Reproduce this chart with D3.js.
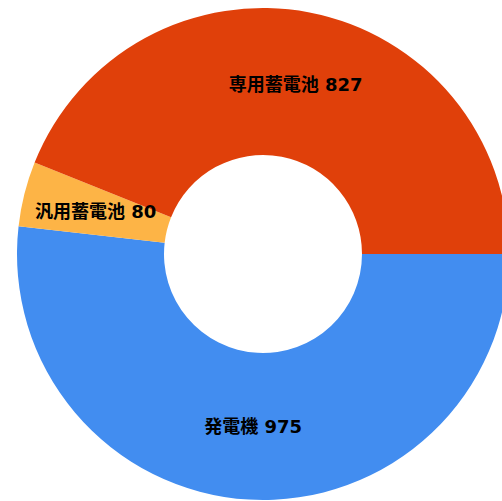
<!DOCTYPE html>
<html lang="ja">
<head>
    <meta charset="UTF-8">
    <title>Donut Chart</title>
    <script src="https://d3js.org/d3.v7.min.js"></script>
    <style>
        body { margin: 0; background: #fff; }
        .label { font-family: "DejaVu Sans", "Noto Sans CJK JP", sans-serif; font-weight: bold; font-size: 18px; fill: #000; }
    </style>
</head>
<body>
    <svg width="502" height="501"></svg>
    <script>
        // data (order drawn clockwise from 3 o'clock)
        const categories = ["発電機", "汎用蓄電池", "専用蓄電池"];
        const values = [975, 80, 827];
        const colors = ["#428df0", "#fdb446", "#e0400a"];

        const cx = 263, cy = 254;
        const outerRadius = 246;
        const innerRadius = 99;

        const svg = d3.select("svg");
        const g = svg.append("g")
            .attr("transform", `translate(${cx},${cy})`);

        const data = categories.map((c, i) => ({ name: c, value: values[i], color: colors[i] }));

        const pie = d3.pie()
            .sort(null)
            .value(d => d.value)
            .startAngle(Math.PI / 2)
            .endAngle(Math.PI / 2 + 2 * Math.PI);

        const arc = d3.arc()
            .innerRadius(innerRadius)
            .outerRadius(outerRadius);

        const arcs = pie(data);

        g.selectAll("path")
            .data(arcs)
            .enter().append("path")
            .attr("d", arc)
            .attr("fill", d => d.data.color);

        g.selectAll("text")
            .data(arcs)
            .enter().append("text")
            .attr("class", "label")
            .attr("transform", d => `translate(${arc.centroid(d)})`)
            .attr("text-anchor", "middle")
            .attr("dominant-baseline", "central")
            .text(d => `${d.data.name} ${d.data.value}`);
    </script>
</body>
</html>
